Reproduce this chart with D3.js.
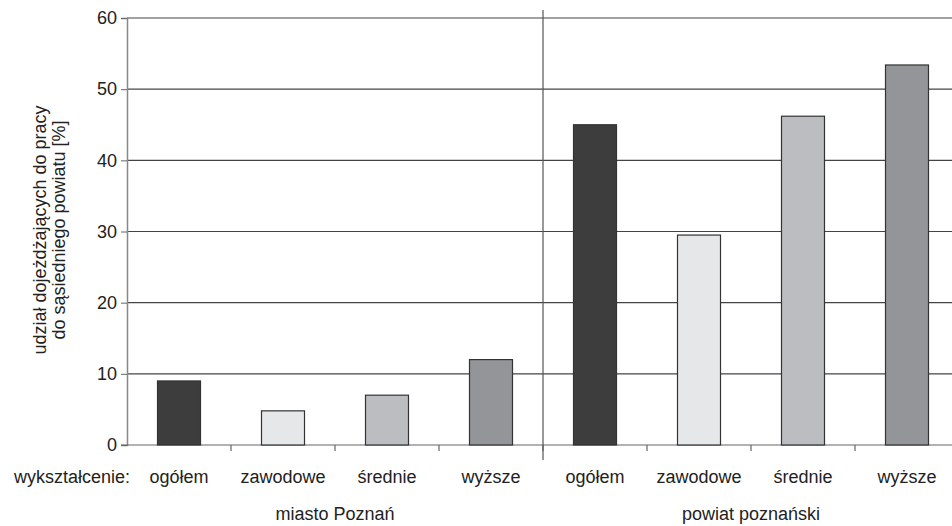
<!DOCTYPE html>
<html><head><meta charset="utf-8">
<script src="https://cdn.jsdelivr.net/npm/d3@7"></script>
<style>body{margin:0;background:#fff}svg{display:block;font-family:"Liberation Sans",Arial,sans-serif}</style>
</head><body>
<svg id="c" width="952" height="526"></svg>
<script>
const groups = ["miasto Poznań", "powiat poznański"];
const categories = ["ogółem", "zawodowe", "średnie", "wyższe"];
const valuesPoznan = [9, 4.8, 7, 12];
const valuesPowiat = [45, 29.5, 46.2, 53.4];
const colors = ["#3d3d3d", "#e6e7e8", "#bcbdc0", "#939598"];
const yTicks = [0, 10, 20, 30, 40, 50, 60];
const rowLabel = "wykształcenie:";
const yTitle = ["udział dojeżdżających do pracy", "do sąsiedniego powiatu [%]"];

(function () {
const svg = d3.select("#c");
const mLeft = 127, mRight = 959, mTop = 18, mBottom = 445;
const fs = 18;
const data = [];
[valuesPoznan, valuesPowiat].forEach((vals, gi) => vals.forEach((v, ci) => data.push({g: gi, c: ci, key: gi + "-" + ci, v})));

const x = d3.scaleBand().domain(data.map(d => d.key)).range([mLeft, mRight]).paddingInner(0).paddingOuter(0);
const y = d3.scaleLinear().domain([0, 60]).range([mBottom, mTop]);

// gridlines
svg.append("g").selectAll("line").data(yTicks.filter(t => t > 0)).join("line")
  .attr("x1", mLeft).attr("x2", 952).attr("y1", d => y(d)).attr("y2", d => y(d))
  .attr("stroke", "#444").attr("stroke-width", 1.2);

// y axis
const yAxis = svg.append("g").attr("transform", `translate(${mLeft},0)`)
  .call(d3.axisLeft(y).tickValues(yTicks).tickSize(6).tickPadding(4));
yAxis.select(".domain").attr("stroke", "#888").attr("stroke-width", 1.5);
yAxis.selectAll(".tick line").attr("stroke", "#666");
yAxis.selectAll("text").attr("font-size", fs).attr("fill", "#222").attr("font-family", "Liberation Sans, Arial, sans-serif");

// x axis line
svg.append("line").attr("x1", mLeft - 6).attr("x2", 952).attr("y1", y(0)).attr("y2", y(0))
  .attr("stroke", "#666").attr("stroke-width", 1.2);

// bars
const bw = 43;
svg.append("g").selectAll("rect").data(data).join("rect")
  .attr("x", d => x(d.key) + x.bandwidth() / 2 - bw / 2)
  .attr("width", bw)
  .attr("y", d => y(d.v))
  .attr("height", d => y(0) - y(d.v))
  .attr("fill", d => colors[d.c])
  .attr("stroke", "#333").attr("stroke-width", 1.2);

// category ticks
svg.append("g").selectAll("line").data(data.slice(1)).join("line")
  .attr("x1", d => x(d.key)).attr("x2", d => x(d.key))
  .attr("y1", y(0)).attr("y2", y(0) + 6)
  .attr("stroke", "#666").attr("stroke-width", 1.2);

// separator
const sepX = x("1-0");
svg.append("line").attr("x1", sepX).attr("x2", sepX).attr("y1", 10).attr("y2", 460)
  .attr("stroke", "#555").attr("stroke-width", 1.2);

// category labels
svg.append("g").selectAll("text").data(data).join("text")
  .attr("x", d => x(d.key) + x.bandwidth() / 2)
  .attr("y", 483).attr("text-anchor", "middle").attr("font-size", fs).attr("fill", "#222")
  .text(d => categories[d.c]);

svg.append("text").attr("x", 130).attr("y", 483).attr("text-anchor", "end")
  .attr("font-size", fs).attr("fill", "#222").text(rowLabel);

// group labels
groups.forEach((g, gi) => {
  const x0 = x(gi + "-0"), x1 = x(gi + "-3") + x.bandwidth();
  svg.append("text").attr("x", (x0 + x1) / 2).attr("y", 520).attr("text-anchor", "middle")
    .attr("font-size", fs).attr("fill", "#222").text(g);
});

// y title
const yt = svg.append("text").attr("transform", "translate(0,230) rotate(-90)")
  .attr("text-anchor", "middle").attr("font-size", fs).attr("fill", "#222");
yTitle.forEach((t, i) => yt.append("tspan").attr("x", 0).attr("y", 46 + i * 19).text(t));
})();
</script>
</body></html>
